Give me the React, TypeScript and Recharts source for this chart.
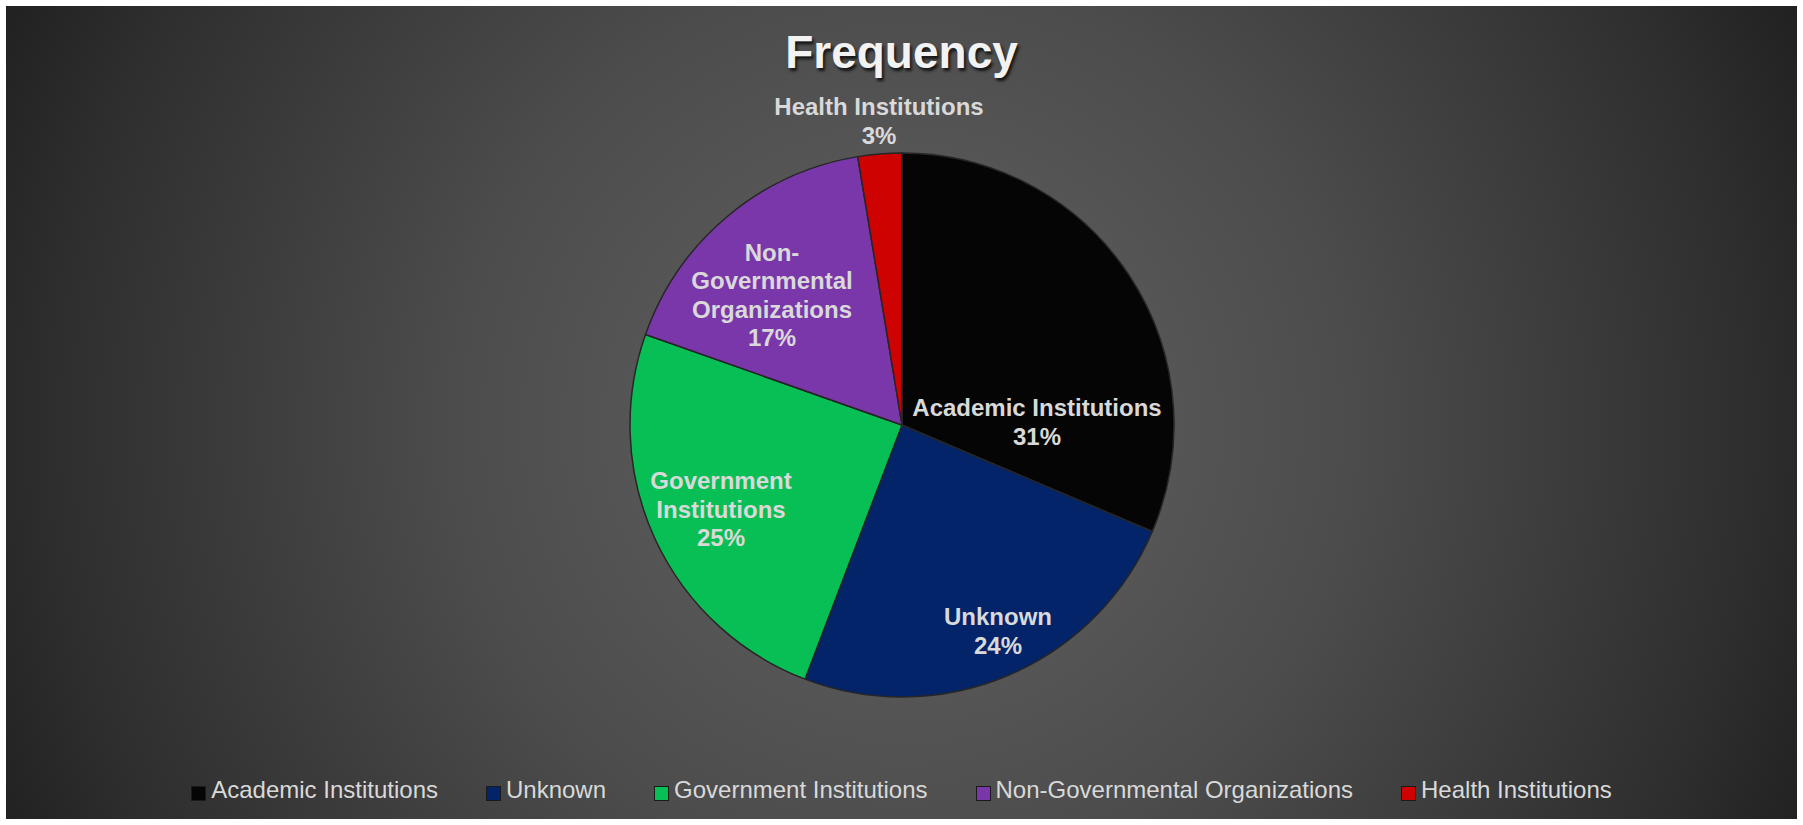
import React from "react";
import { PieChart, Pie, Cell, Legend } from "recharts";

// slice data, clockwise from 12 o'clock
const categories = [
  "Academic Institutions",
  "Unknown",
  "Government Institutions",
  "Non-Governmental Organizations",
  "Health Institutions",
];
const shares = [31.4, 24.4, 24.6, 17.0, 2.6];
const sliceColors = ["#050505", "#032468", "#08bf56", "#7a37a9", "#cf0202"];

// how Excel wrapped the data labels
const labelLines = [
  ["Academic Institutions"],
  ["Unknown"],
  ["Government", "Institutions"],
  ["Non-", "Governmental", "Organizations"],
  ["Health Institutions"],
];
// best-fit label centres, relative to pie centre
const labelOffsets = [
  [135, -3],
  [96, 206],
  [-181, 84],
  [-130, -130],
  [-23, -304],
];

const data = categories.map((name, i) => ({ name, value: shares[i] }));

const FONT = "'Liberation Sans', Arial, Helvetica, sans-serif";
const W = 1791;
const H = 813;

const renderLabel = (props: any) => {
  const { cx, cy, index, percent } = props;
  const lines = [...labelLines[index], `${Math.round(percent * 100)}%`];
  const [dx, dy] = labelOffsets[index];
  const lineH = 28.5;
  const mid = cy + dy;
  return (
    <text
      x={cx + dx}
      y={mid}
      fill="#d9d9d9"
      textAnchor="middle"
      fontFamily={FONT}
      fontWeight="bold"
      fontSize={24}
    >
      {lines.map((t, i) => (
        <tspan key={i} x={cx + dx} y={mid + (i - (lines.length - 1) / 2) * lineH} dominantBaseline="central">
          {t}
        </tspan>
      ))}
    </text>
  );
};

const renderLegend = () => (
  <div
    style={{
      display: "flex",
      justifyContent: "center",
      alignItems: "center",
      gap: 48,
      height: 28,
      fontFamily: FONT,
      fontSize: 24,
      lineHeight: "28px",
      color: "#d9d9d9",
    }}
  >
    {categories.map((c, i) => (
      <div key={c} style={{ display: "flex", alignItems: "center" }}>
        <span
          style={{
            display: "inline-block",
            width: 13,
            height: 13,
            marginRight: 5,
            marginTop: 7,
            background: sliceColors[i],
            border: "1px solid #1a1a1a",
          }}
        />
        <span>{c}</span>
      </div>
    ))}
  </div>
);

export default function App() {
  return (
    <div style={{ position: "absolute", left: 0, top: 0, width: 1803, height: 825, background: "#ffffff" }}>
      <div
        style={{
          position: "absolute",
          left: 6,
          top: 6,
          width: W,
          height: H,
          background:
            "radial-gradient(circle at 896px 419px, #5b5b5b 0px, #565656 250px, #4c4c4c 450px, #3d3d3d 650px, #2e2e2e 850px, #202020 1000px)",
        }}
      >
        <div
          style={{
            position: "absolute",
            left: 0,
            top: 23,
            width: "100%",
            textAlign: "center",
            fontFamily: FONT,
            fontWeight: "bold",
            fontSize: 46,
            lineHeight: "46px",
            color: "#f2f2f2",
            textShadow: "2px 3px 3px rgba(0,0,0,0.75)",
          }}
        >
          Frequency
        </div>
        <div style={{ position: "absolute", left: 0, top: 0 }}>
          <PieChart width={W} height={H} margin={{ top: 0, right: 0, bottom: 0, left: 0 }}>
            <Pie
              data={data}
              dataKey="value"
              nameKey="name"
              cx={896}
              cy={419}
              outerRadius={272}
              startAngle={90}
              endAngle={-270}
              stroke="#262626"
              strokeWidth={1.5}
              label={renderLabel}
              labelLine={false}
              isAnimationActive={false}
            >
              {data.map((d, i) => (
                <Cell key={d.name} fill={sliceColors[i]} />
              ))}
            </Pie>
            <Legend verticalAlign="bottom" content={renderLegend} wrapperStyle={{ left: 0, width: "100%", bottom: 15 }} />
          </PieChart>
        </div>
      </div>
    </div>
  );
}
